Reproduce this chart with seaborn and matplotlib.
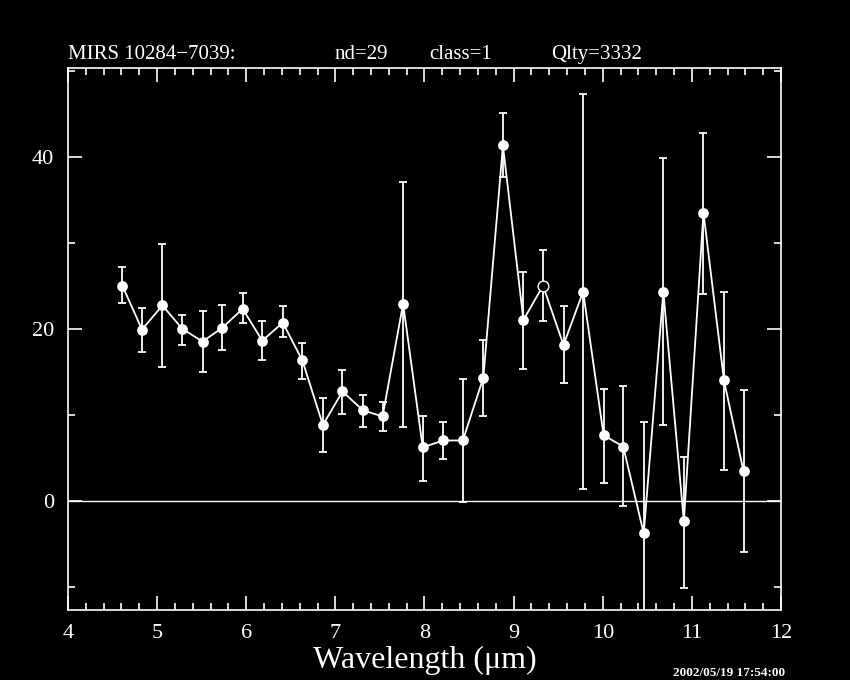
import matplotlib
matplotlib.use("Agg")
import matplotlib.pyplot as plt
from matplotlib.ticker import MultipleLocator
import seaborn as sns
import pandas as pd
import numpy as np

# spectrum values
wavelength = [4.61, 4.83, 5.06, 5.28, 5.51, 5.73, 5.96, 6.18, 6.41, 6.63,
              6.86, 7.08, 7.31, 7.53, 7.76, 7.98, 8.21, 8.43, 8.66, 8.88,
              9.11, 9.33, 9.56, 9.78, 10.01, 10.23, 10.46, 10.68, 10.91, 11.13,
              11.36, 11.58]
flux = [25.0, 19.9, 22.7, 20.0, 18.5, 20.1, 22.3, 18.6, 20.7, 16.3,
        8.8, 12.7, 10.5, 9.8, 22.9, 6.2, 7.0, 7.0, 14.3, 41.3,
        21.0, 25.0, 18.1, 24.3, 7.6, 6.3, -3.8, 24.3, -2.4, 33.5,
        14.0, 3.4]
err_low = [23.0, 17.3, 15.6, 18.1, 15.0, 17.5, 20.6, 16.3, 19.0, 14.2,
           5.7, 10.1, 8.6, 8.1, 8.6, 2.3, 4.8, -0.1, 9.9, 37.6,
           15.3, 20.9, 13.7, 1.4, 2.1, -0.6, -17.0, 8.8, -10.1, 24.0,
           3.6, -6.0]
err_high = [27.2, 22.4, 29.8, 21.6, 22.1, 22.8, 24.1, 20.9, 22.6, 18.3,
            11.9, 15.2, 12.3, 11.5, 37.1, 9.9, 9.2, 14.2, 18.7, 45.1,
            26.6, 29.1, 22.6, 47.3, 13.0, 13.3, 9.2, 39.8, 5.1, 42.8,
            24.3, 12.9]
# one point drawn as an open circle
hollow = [False] * 21 + [True] + [False] * 10

title_parts = ["MIRS 10284\u22127039:", "nd=29", "class=1", "Qlty=3332"]
title_x = [68, 335, 429, 551]  # left edge of each part, pixels

df = pd.DataFrame({"wl": wavelength, "flux": flux, "lo": err_low,
                   "hi": err_high, "hollow": hollow})

sns.set_theme(style="ticks")
plt.rcParams.update({
    "figure.facecolor": "black", "axes.facecolor": "black",
    "axes.edgecolor": "white", "text.color": "white",
    "xtick.color": "white", "ytick.color": "white",
    "axes.labelcolor": "white",
})
plt.rcParams["font.family"] = ["Liberation Serif", "DejaVu Serif"]

fig = plt.figure(figsize=(8.5, 6.8), dpi=100)
ax = fig.add_axes([0.08, 0.103, 0.8388, 0.797])

ax.axhline(0, color="white", lw=1.0, zorder=1)

yerr = np.array([df["flux"] - df["lo"], df["hi"] - df["flux"]])
ax.errorbar(df["wl"], df["flux"], yerr=yerr, fmt="none", ecolor="white",
            elinewidth=1.3, capsize=3, capthick=1.3, zorder=2)
sns.lineplot(data=df, x="wl", y="flux", color="white", lw=1.3, ax=ax,
             sort=False, zorder=3)
solid = df[~df["hollow"]]
open_ = df[df["hollow"]]
sns.scatterplot(data=solid, x="wl", y="flux", color="white", s=60,
                edgecolor="white", linewidth=0, ax=ax, zorder=4)
ax.scatter(open_["wl"], open_["flux"], s=60, facecolors="black",
           edgecolors="white", linewidths=1.0, zorder=4)

ax.set_xlim(4, 12)
ax.set_ylim(-12.7, 50.3)
ax.xaxis.set_major_locator(MultipleLocator(1))
ax.xaxis.set_minor_locator(MultipleLocator(0.2))
ax.yaxis.set_major_locator(MultipleLocator(20))
ax.yaxis.set_minor_locator(MultipleLocator(10))
ax.tick_params(which="both", direction="in", top=True, right=True,
               labelsize=16, width=1.2)
ax.tick_params(which="major", length=10, pad=10)
ax.tick_params(which="minor", length=5)
for sp in ax.spines.values():
    sp.set_linewidth(1.2)

ax.set_xlabel("Wavelength (\u03bcm)", fontsize=23, labelpad=2)
ax.set_ylabel("")
for txt, px in zip(title_parts, title_x):
    fig.text(px / 850, 1 - 59 / 680, txt, fontsize=15, ha="left",
             va="baseline")
fig.text(0.924, 0.002, "2002/05/19 17:54:00", fontsize=9.5, ha="right",
         va="bottom", weight="bold")

fig.savefig("out.png", dpi=100, facecolor="black")
